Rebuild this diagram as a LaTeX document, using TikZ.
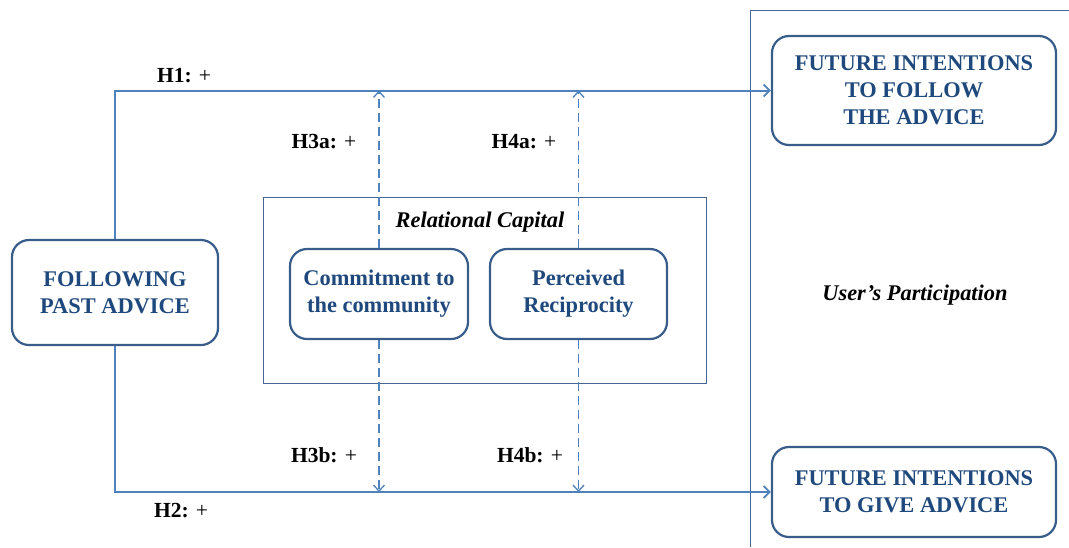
\documentclass[tikz,border=0pt]{standalone}
\usepackage{fontspec}
\setmainfont{Liberation Serif}
\usetikzlibrary{arrows.meta}
\definecolor{linec}{RGB}{79,129,189}
\definecolor{boxc}{RGB}{56,93,138}
\definecolor{txtc}{RGB}{31,73,125}
\definecolor{rcc}{RGB}{70,100,150}
\tikzset{
  x=1pt,y=-1pt,
  bigbox/.style={draw=boxc,line width=2.2pt,rounded corners=17pt,align=center,text=txtc,
    font=\fontsize{22.4}{27}\selectfont\bfseries,inner sep=0pt},
  lab/.style={font=\fontsize{21.5}{25}\selectfont,text=black,inner sep=0pt},
  ilab/.style={font=\fontsize{22.4}{26}\selectfont\bfseries\itshape,text=black,inner sep=0pt},
  conn/.style={draw=linec,line width=2pt,-{Straight Barb[length=6pt,width=12pt,line width=1.8pt]}},
  dconn/.style={draw=linec,line width=1.3pt,dash pattern=on 9pt off 5pt,-{Straight Barb[length=6pt,width=11pt,line width=1.3pt]}},
}
\begin{document}
\begin{tikzpicture}
\useasboundingbox (0,0) rectangle (1069,547);
% right panel
\draw[draw=rcc,line width=1pt] (750,547) -- (750,10) -- (1069,10);
\node[ilab] (up) at (915,295) {User’s Participation};
% relational capital frame
\node[draw=rcc,line width=1pt,minimum width=443pt,minimum height=186pt,inner sep=0pt] (rc) at (484.5,290) {};
\node[ilab] (rcl) at (480,222) {Relational Capital};
% boxes
\node[bigbox,minimum width=206pt,minimum height=105pt] (fpa) at (115,292.5) {FOLLOWING\\PAST ADVICE};
\node[bigbox,minimum width=178pt,minimum height=90pt] (com) at (379,294) {Commitment to\\the community};
\node[bigbox,minimum width=177pt,minimum height=90pt] (rec) at (578.5,294) {Perceived\\Reciprocity};
\node[bigbox,minimum width=284pt,minimum height=109pt] (fif) at (914,90.5) {FUTURE INTENTIONS\\TO FOLLOW\\THE ADVICE};
\node[bigbox,minimum width=284pt,minimum height=90pt] (fig) at (914,492) {FUTURE INTENTIONS\\TO GIVE ADVICE};
% main connectors
\draw[conn] (fpa.north) |- (fif.west);
\draw[conn] (fpa.south) |- (fig.west);
% moderating connectors
\draw[dconn] (com.north) -- (com.north |- fif.west);
\draw[dconn] (rec.north) -- (rec.north |- fif.west);
\draw[dconn] (com.south) -- (com.south |- fig.west);
\draw[dconn] (rec.south) -- (rec.south |- fig.west);
% labels
\node[lab] (h1) at (184,76) {\textbf{H1:} +};
\node[lab] (h2) at (181,511) {\textbf{H2:} +};
\node[lab] (h3a) at (324,142) {\textbf{H3a:} +};
\node[lab] (h4a) at (524,142) {\textbf{H4a:} +};
\node[lab] (h3b) at (324,455) {\textbf{H3b:} +};
\node[lab] (h4b) at (530,455) {\textbf{H4b:} +};
\end{tikzpicture}
\end{document}
